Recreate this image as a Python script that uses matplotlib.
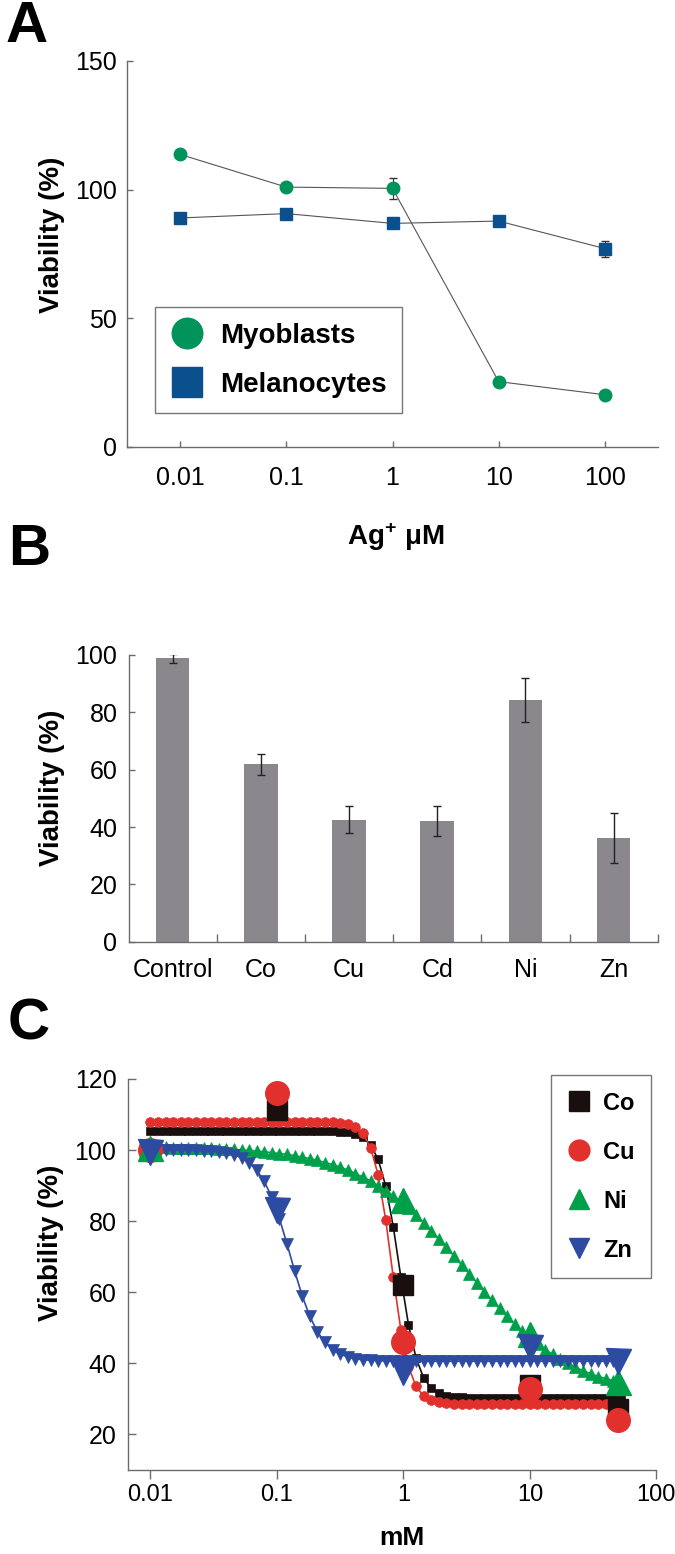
import numpy as np
import matplotlib
matplotlib.use('Agg')
import matplotlib.pyplot as plt
from matplotlib.lines import Line2D

plt.rcParams['font.family'] = ['Liberation Sans', 'DejaVu Sans']
plt.rcParams['mathtext.fontset'] = 'custom'
plt.rcParams['mathtext.rm'] = 'Liberation Sans:bold'
plt.rcParams['mathtext.bf'] = 'Liberation Sans:bold'

# ---- panel A data ----
ag_labels = ['0.01', '0.1', '1', '10', '100']
myoblasts = [113.7, 101.0, 100.5, 25.4, 20.3]
myoblasts_err = [0.8, 0.8, 4.1, 0.8, 0.8]
melanocytes = [89.0, 90.7, 86.9, 87.8, 77.1]
melanocytes_err = [0.8, 0.8, 0.8, 0.8, 3.1]

# ---- panel B data ----
metals = ['Control', 'Co', 'Cu', 'Cd', 'Ni', 'Zn']
viab_b = [98.8, 61.9, 42.6, 42.2, 84.3, 36.3]
viab_b_err = [1.5, 3.7, 4.8, 5.3, 7.7, 8.7]

# ---- panel C data: measured points ----
conc = [0.01, 0.1, 1, 10, 50]
co_pts = [100.0, 111.3, 62.0, 34.0, 27.3]
cu_pts = [100.0, 116.2, 46.0, 32.9, 24.0]
ni_conc = [0.01, 1, 10, 50]
ni_pts = [100.5, 85.9, 48.4, 34.7]
zn_pts = [99.5, 83.1, 37.6, 44.6, 40.8]

# ---- panel C fitted curves ----
fit_x = [0.0100, 0.01148, 0.01318, 0.01514, 0.01738, 0.01995, 0.02291, 0.02630,
         0.03020, 0.03467, 0.03981, 0.04571, 0.05248, 0.06026, 0.06918, 0.07943,
         0.09120, 0.1047, 0.1202, 0.1380, 0.1585, 0.1820, 0.2089, 0.2399,
         0.2754, 0.3162, 0.3631, 0.4169, 0.4786, 0.5495, 0.6310, 0.7244,
         0.8318, 0.9550, 1.096, 1.259, 1.445, 1.660, 1.905, 2.188,
         2.512, 2.884, 3.311, 3.802, 4.365, 5.012, 5.754, 6.607,
         7.586, 8.710, 10.00, 11.48, 13.18, 15.14, 17.38, 19.95,
         22.91, 26.30, 30.20, 34.67, 39.81, 45.71, 52.48]
co_fit = [105.4, 105.4, 105.4, 105.4, 105.4, 105.4, 105.4, 105.4,
          105.4, 105.4, 105.4, 105.4, 105.4, 105.4, 105.4, 105.4,
          105.4, 105.4, 105.4, 105.4, 105.4, 105.4, 105.4, 105.4,
          105.3, 105.2, 105.0, 104.5, 103.6, 101.5, 97.4, 89.9,
          78.4, 64.2, 50.9, 41.5, 35.9, 33.0, 31.6, 30.9,
          30.6, 30.4, 30.3, 30.3, 30.3, 30.3, 30.3, 30.3,
          30.3, 30.3, 30.3, 30.3, 30.3, 30.3, 30.3, 30.3,
          30.3, 30.3, 30.3, 30.3, 30.3, 30.3, 30.3]
cu_fit = [108.0, 108.0, 108.0, 108.0, 108.0, 108.0, 108.0, 108.0,
          108.0, 108.0, 108.0, 108.0, 108.0, 108.0, 108.0, 108.0,
          108.0, 108.0, 108.0, 108.0, 108.0, 108.0, 108.0, 108.0,
          107.9, 107.7, 107.3, 106.5, 104.7, 100.7, 93.1, 80.4,
          64.2, 49.3, 39.1, 33.5, 30.8, 29.6, 29.0, 28.8,
          28.7, 28.6, 28.6, 28.6, 28.6, 28.6, 28.6, 28.6,
          28.6, 28.6, 28.6, 28.6, 28.6, 28.6, 28.6, 28.6,
          28.6, 28.6, 28.6, 28.6, 28.6, 28.6, 28.6]
ni_fit = [100.8, 100.8, 100.8, 100.7, 100.7, 100.6, 100.6, 100.5,
          100.5, 100.4, 100.3, 100.2, 100.0, 99.9, 99.7, 99.5,
          99.3, 99.0, 98.8, 98.4, 98.0, 97.6, 97.1, 96.5,
          95.9, 95.2, 94.4, 93.4, 92.4, 91.3, 90.0, 88.6,
          87.1, 85.4, 83.6, 81.6, 79.6, 77.3, 75.0, 72.6,
          70.2, 67.7, 65.2, 62.7, 60.1, 57.7, 55.5, 53.2,
          51.1, 49.0, 47.2, 45.5, 43.9, 42.5, 41.1, 40.0,
          38.9, 37.9, 37.1, 36.3, 35.7, 35.1, 34.6]
zn_fit = [100.0, 100.0, 100.0, 100.0, 100.0, 99.9, 99.9, 99.8,
          99.7, 99.5, 99.2, 98.7, 97.9, 96.5, 94.4, 91.2,
          86.7, 80.7, 73.6, 66.0, 59.0, 53.2, 48.9, 45.9,
          43.9, 42.6, 41.8, 41.3, 41.0, 40.9, 40.8, 40.7,
          40.6, 40.6, 40.6, 40.6, 40.6, 40.6, 40.6, 40.6,
          40.6, 40.6, 40.6, 40.6, 40.6, 40.6, 40.6, 40.6,
          40.6, 40.6, 40.6, 40.6, 40.6, 40.6, 40.6, 40.6,
          40.6, 40.6, 40.6, 40.6, 40.6, 40.6, 40.6]

GREEN_A = '#00935a'
BLUE_A = '#0b4f8c'
SPINE = '#6b6b6b'
W, H = 675, 1554

fig = plt.figure(figsize=(W / 100, H / 100), dpi=100)


def px_axes(left, top, right, bottom):
    return fig.add_axes([left / W, 1 - bottom / H, (right - left) / W, (bottom - top) / H])


def style(ax):
    for s in ['top', 'right']:
        ax.spines[s].set_visible(False)
    for s in ['left', 'bottom']:
        ax.spines[s].set_color(SPINE)
        ax.spines[s].set_linewidth(1.0)


# ================= A =================
axA = px_axes(127, 61, 658, 447)
style(axA)
xa = np.arange(len(ag_labels))
axA.errorbar(xa, myoblasts, yerr=myoblasts_err, color='#555555', lw=0.8,
             marker='o', ms=9, mfc=GREEN_A, mec=GREEN_A,
             ecolor='#333333', elinewidth=0.8, capsize=3)
axA.errorbar(xa, melanocytes, yerr=melanocytes_err, color='#555555', lw=0.8,
             marker='s', ms=9, mfc=BLUE_A, mec=BLUE_A,
             ecolor='#333333', elinewidth=0.8, capsize=3)
axA.set_xlim(-0.5, 4.5)
axA.set_ylim(0, 150)
axA.set_yticks([0, 50, 100, 150])
axA.set_xticks(xa)
axA.set_xticklabels(ag_labels)
axA.tick_params(axis='x', direction='in', length=4.5, width=1, color=SPINE,
                labelsize=18, pad=14)
axA.tick_params(axis='y', direction='in', length=4, width=1, color=SPINE,
                labelsize=18, pad=7)
handles = [Line2D([], [], ls='', marker='o', ms=22, color=GREEN_A),
           Line2D([], [], ls='', marker='s', ms=21, color=BLUE_A)]
legA = axA.legend(handles, ['Myoblasts', 'Melanocytes'], loc='lower left',
                  bbox_to_anchor=(0.052, 0.087), frameon=True, fancybox=False,
                  prop={'weight': 'bold', 'size': 20}, handletextpad=0.6,
                  labelspacing=0.85, borderpad=0.55, handlelength=1.2,
                  borderaxespad=0)
legA.get_frame().set_edgecolor('#555555')
legA.get_frame().set_linewidth(1.0)

fig.text(52 / W, 1 - 235 / H, 'Viability (%)', rotation=90, ha='center',
         va='center', fontsize=20, fontweight='bold')
fig.text(396 / W, 1 - 537 / H, r'Ag$^{+}$ μM', ha='center', va='center',
         fontsize=20, fontweight='bold')
fig.text(6 / W, 1 - 27 / H, 'A', fontsize=42, fontweight='bold', ha='left', va='center')

# ================= B =================
axB = px_axes(128.5, 655, 657.7, 941.7)
style(axB)
xb = np.arange(len(metals))
axB.bar(xb, viab_b, width=0.38, color='#8a888d', yerr=viab_b_err,
        error_kw=dict(ecolor='#222222', elinewidth=1, capsize=3, capthick=1))
axB.set_xlim(-0.5, 5.5)
axB.set_ylim(0, 100)
axB.set_yticks(range(0, 101, 20))
axB.set_xticks(xb)
axB.set_xticklabels(metals)
axB.set_xticks(xb + 0.5, minor=True)
axB.tick_params(axis='x', which='major', length=0, labelsize=18, pad=12)
axB.tick_params(axis='x', which='minor', direction='in', length=5.5, width=1, color=SPINE)
axB.tick_params(axis='y', direction='in', length=4, width=1, color=SPINE,
                labelsize=18, pad=8)

fig.text(52 / W, 1 - 788 / H, 'Viability (%)', rotation=90, ha='center',
         va='center', fontsize=20, fontweight='bold')
fig.text(8 / W, 1 - 550 / H, 'B', fontsize=42, fontweight='bold', ha='left', va='center')

# ================= C =================
axC = px_axes(127.6, 1079, 656.4, 1470)
style(axC)
series = [
    ('Co', co_fit, conc, co_pts, '#1a0f0f', 's', 6, 15),
    ('Cu', cu_fit, conc, cu_pts, '#e2302d', 'o', 7, 17),
    ('Ni', ni_fit, ni_conc, ni_pts, '#00a04b', '^', 8.5, 18),
    ('Zn', zn_fit, conc, zn_pts, '#2d4ba0', 'v', 8.5, 18),
]
for name, fit, cx, pts, col, mk, ms_small, ms_big in series:
    axC.plot(fit_x, fit, color=col, lw=1.2, marker=mk, ms=ms_small,
             mfc=col, mec=col, mew=0.5)
for name, fit, cx, pts, col, mk, ms_small, ms_big in series:
    axC.plot(cx, pts, ls='', marker=mk, ms=ms_big, mfc=col, mec=col)

axC.set_xscale('log')
axC.set_xlim(0.0066, 100)
axC.set_ylim(10, 120)
axC.set_yticks(range(20, 121, 20))
axC.set_xticks([0.01, 0.1, 1, 10, 100])
axC.set_xticklabels(['0.01', '0.1', '1', '10', '100'])
axC.minorticks_off()
axC.tick_params(axis='x', direction='out', length=6.5, width=1, color=SPINE,
                labelsize=17, pad=3.5)
axC.tick_params(axis='y', direction='in', length=5.5, width=1, color=SPINE,
                labelsize=18, pad=8)

handles = [Line2D([], [], ls='', marker=s[5], ms=15, color=s[4]) for s in series]
legC = axC.legend(handles, [s[0] for s in series], loc='upper right',
                  bbox_to_anchor=(0.99, 1.01), frameon=True, fancybox=False,
                  prop={'weight': 'bold', 'size': 17}, handletextpad=0.5,
                  labelspacing=1.1, borderpad=0.7, handlelength=1.0,
                  borderaxespad=0)
legC.get_frame().set_edgecolor('#555555')
legC.get_frame().set_linewidth(1.0)

fig.text(51.5 / W, 1 - 1243 / H, 'Viability (%)', rotation=90, ha='center',
         va='center', fontsize=20, fontweight='bold')
fig.text(402 / W, 1 - 1538 / H, 'mM', ha='center', va='center',
         fontsize=19, fontweight='bold')
fig.text(8 / W, 1 - 1024 / H, 'C', fontsize=42, fontweight='bold', ha='left', va='center')

fig.savefig('out.png', dpi=100)
